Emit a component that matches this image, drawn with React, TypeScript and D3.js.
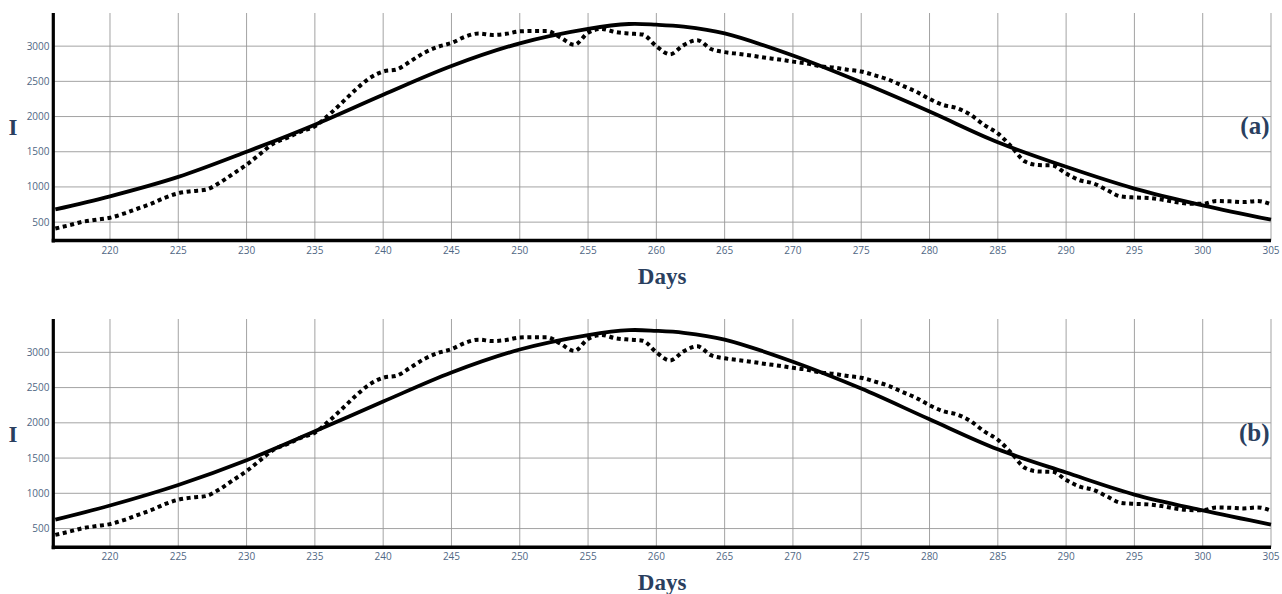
import React from "react";
import * as d3 from "d3";

// observed data (dotted), one value per day 216..305
const days = d3.range(216, 306);
const observed = [
  410, 455, 505, 535, 563, 620, 690, 760, 845, 910,
  940, 960, 1055, 1185, 1315, 1470, 1620, 1700, 1790, 1860,
  2020, 2200, 2385, 2545, 2640, 2670, 2785, 2905, 2990, 3045,
  3135, 3180, 3160, 3175, 3210, 3215, 3215, 3120, 3020, 3190,
  3245, 3200, 3180, 3165, 3000, 2885, 3015, 3085, 2960, 2915,
  2890, 2865, 2835, 2810, 2780, 2755, 2715, 2695, 2665, 2640,
  2585, 2525, 2440, 2355, 2250, 2165, 2120, 2025, 1880, 1760,
  1570, 1360, 1310, 1305, 1190, 1095, 1050, 955, 865, 850,
  843, 820, 785, 763, 760, 800, 795, 785, 800, 753,
];

// model fits (solid)
const fitDays = [216, 220, 225, 230, 235, 240, 245, 250, 255, 258, 260, 262, 265, 270, 275, 280, 285, 290, 295, 300, 305];
const fitA = [681, 867, 1143, 1500, 1885, 2310, 2718, 3040, 3245, 3315, 3305, 3277, 3181, 2867, 2486, 2071, 1635, 1286, 977, 739, 534];
const fitB = [626, 827, 1118, 1469, 1880, 2302, 2714, 3040, 3245, 3315, 3305, 3277, 3181, 2867, 2486, 2050, 1624, 1295, 982, 757, 556];

const xTicks = d3.range(220, 306, 5);
const yTicks = [500, 1000, 1500, 2000, 2500, 3000];

const tickColor = "#506784";
const titleColor = "#2a3f5f";
const gridColor = "#999";

type P = { d: number; v: number };

function Panel({ top, bottom, yDomain, fit, label }: { top: number; bottom: number; yDomain: [number, number]; fit: number[]; label: string }) {
  const left = 53.3;
  const right = 1271;
  const x = d3.scaleLinear().domain([215.85, 305]).range([left, right]);
  const y = d3.scaleLinear().domain(yDomain).range([bottom, top]);

  const line = d3
    .line<P>()
    .x((p) => x(p.d))
    .y((p) => y(p.v));

  const obsPath = line.curve(d3.curveMonotoneX)(days.map((d, i) => ({ d, v: observed[i] })));
  const fitPath = line.curve(d3.curveCatmullRom)(fitDays.map((d, i) => ({ d, v: fit[i] })));
  const mid = (top + bottom) / 2;

  return (
    <g>
      {xTicks.map((t) => (
        <line key={"gx" + t} x1={x(t)} x2={x(t)} y1={top} y2={bottom} stroke={gridColor} strokeWidth={0.9} />
      ))}
      {yTicks.map((t) => (
        <line key={"gy" + t} x1={left} x2={right} y1={y(t)} y2={y(t)} stroke={gridColor} strokeWidth={0.9} />
      ))}
      <path d={fitPath || ""} fill="none" stroke="#000" strokeWidth={3.8} />
      <path d={obsPath || ""} fill="none" stroke="#000" strokeWidth={4} strokeDasharray="4,3.6" />
      <line x1={left} x2={left} y1={top} y2={bottom + 2} stroke="#000" strokeWidth={3.2} />
      <line x1={left - 1.6} x2={right} y1={bottom} y2={bottom} stroke="#000" strokeWidth={3.5} />
      {xTicks.map((t) => (
        <text key={"tx" + t} x={x(t)} y={bottom + 13} textAnchor="middle" fontSize={10} fill={tickColor} fontFamily="'Open Sans', Verdana, sans-serif">
          {t}
        </text>
      ))}
      {yTicks.map((t) => (
        <text key={"ty" + t} x={49.5} y={y(t)} dy="0.35em" textAnchor="end" fontSize={10} fill={tickColor} fontFamily="'Open Sans', Verdana, sans-serif">
          {t}
        </text>
      ))}
      <text x={(left + right) / 2} y={bottom + 43} textAnchor="middle" fontSize={23} fontWeight="bold" fill={titleColor} fontFamily="'Liberation Serif', 'Times New Roman', serif">
        Days
      </text>
      <text x={13} y={mid + 8.5} textAnchor="middle" fontSize={23} fontWeight="bold" fill={titleColor} fontFamily="'Liberation Serif', 'Times New Roman', serif">
        I
      </text>
      <text x={1269.5} y={mid + 7.5} textAnchor="end" fontSize={25} fontWeight="bold" fill={titleColor} fontFamily="'Liberation Serif', 'Times New Roman', serif">
        {label}
      </text>
    </g>
  );
}

export default function App() {
  return (
    <svg width={1282} height={594} style={{ position: "absolute", left: 0, top: 0, background: "#fff" }}>
      <Panel top={13} bottom={240.5} yDomain={[239, 3471]} fit={fitA} label="(a)" />
      <Panel top={319} bottom={547.3} yDomain={[234, 3473]} fit={fitB} label="(b)" />
    </svg>
  );
}
